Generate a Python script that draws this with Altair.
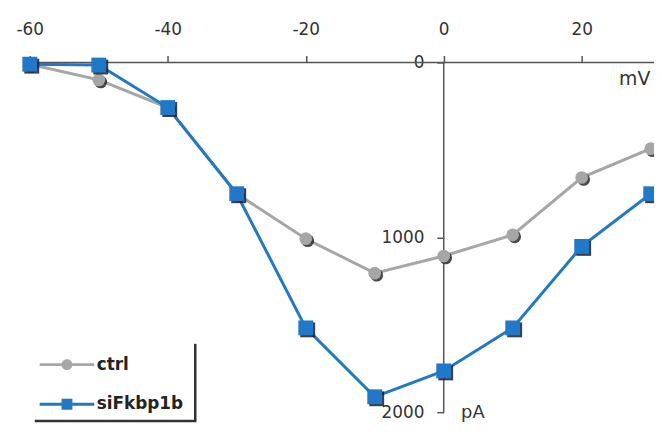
import altair as alt
import pandas as pd

# ---- data ----
voltage = [-60, -50, -40, -30, -20, -10, 0, 10, 20, 30]
ctrl = [10, 100, 258, 751, 1008, 1205, 1107, 986, 658, 493]
sifkbp1b = [10, 15, 258, 751, 1518, 1912, 1764, 1518, 1052, 751]
series_names = ["ctrl", "siFkbp1b"]
x_ticks = [-60, -40, -20, 0, 20]
y_ticks = [0, 1000, 2000]

GRAY = "#a6a6a6"
BLUE = "#1f78c8"
FONT = "DejaVu Sans"

df = pd.DataFrame({
    "mV": voltage * 2,
    "pA": ctrl + sifkbp1b,
    "series": ["ctrl"] * len(voltage) + ["siFkbp1b"] * len(voltage),
})

W, H = 652, 418
X_MIN, X_MAX = -63.16, 30.48
Y_MIN, Y_MAX = -300.3, 2068
x_axis_px = H * (0 - Y_MIN) / (Y_MAX - Y_MIN)
y_axis_px = W * (0 - X_MIN) / (X_MAX - X_MIN)

xscale = alt.Scale(domain=[X_MIN, X_MAX], nice=False, zero=False)
yscale = alt.Scale(domain=[Y_MIN, Y_MAX], nice=False, zero=False, reverse=True)

xaxis = alt.Axis(
    orient="top", offset=-x_axis_px, values=x_ticks, domain=False, grid=False,
    tickSize=7, tickWidth=1.5, tickColor="#555",
    labelExpr="'' + datum.value",
    labelFont=FONT, labelFontSize=17, labelColor="#333", labelPadding=21,
    labelBaseline="alphabetic", labelFlush=False, labelOverlap=False,
    title="mV", titleFont=FONT, titleFontSize=19, titleFontWeight="normal",
    titleColor="#333", titleX=632, titleY=16, titleAlign="center",
    titleBaseline="middle", titleAngle=0,
)
yaxis = alt.Axis(
    orient="left", offset=-y_axis_px, values=y_ticks, domain=False, grid=False,
    tickSize=7, tickWidth=1.5, tickColor="#555",
    labelExpr="'' + datum.value",
    labelFont=FONT, labelFontSize=17, labelColor="#333", labelPadding=13,
    labelAlign="right", labelBaseline="middle", labelFlush=False, labelOverlap=False,
    title="pA", titleFont=FONT, titleFontSize=18, titleFontWeight="normal",
    titleColor="#333", titleX=17, titleY=406, titleAlign="left",
    titleBaseline="middle", titleAngle=0,
)

X = alt.X("mV:Q", scale=xscale, axis=xaxis)
Y = alt.Y("pA:Q", scale=yscale, axis=yaxis)

# axis lines
xline = alt.Chart(pd.DataFrame({"mV": [-60], "mV2": [X_MAX], "pA": [0]})).mark_rule(
    color="#555", strokeWidth=1.5).encode(x=X, x2="mV2:Q", y=Y)
yline = alt.Chart(pd.DataFrame({"mV": [0], "pA": [0], "pA2": [2000]})).mark_rule(
    color="#555", strokeWidth=1.5).encode(x=X, y=Y, y2="pA2:Q")

ctrl_df = alt.Chart(df).transform_filter(alt.datum.series == "ctrl")
sif_df = alt.Chart(df).transform_filter(alt.datum.series == "siFkbp1b")

ctrl_line = ctrl_df.mark_line(color=GRAY, strokeWidth=3).encode(x=X, y=Y)
ctrl_shadow = ctrl_df.mark_point(shape="circle", filled=True, size=165, color="#2a2a2a",
                                 opacity=0.85, xOffset=2, yOffset=2).encode(x=X, y=Y)
ctrl_pts = ctrl_df.mark_point(shape="circle", filled=True, size=165, color=GRAY,
                              opacity=1).encode(x=X, y=Y)

sif_line = sif_df.mark_line(color=BLUE, strokeWidth=3).encode(x=X, y=Y)
sif_shadow = sif_df.mark_point(shape="square", filled=True, size=225, color="#1a1a2a",
                               opacity=0.85, xOffset=2, yOffset=2).encode(x=X, y=Y)
sif_pts = sif_df.mark_point(shape="square", filled=True, size=225, color=BLUE,
                            opacity=1).encode(x=X, y=Y)

# legend (native legend, custom line+marker symbols)
legend_paths = [
    "M-2.75,-0.15H2.75V0.15H-2.75Z M-0.55,0A0.55,0.55 0 1,1 0.55,0A0.55,0.55 0 1,1 -0.55,0Z",
    "M-2.75,-0.15H2.75V0.15H-2.75Z M-0.55,-0.55H0.55V0.55H-0.55Z",
]
leg = alt.Legend(
    orient="none", legendX=49.5, legendY=348, padding=0, title=None,
    symbolSize=400, symbolStrokeWidth=0, symbolOpacity=1,
    labelOffset=20, rowPadding=22,
    labelFont=FONT, labelFontSize=17, labelFontWeight="bold", labelColor="#222",
)
legend_layer = alt.Chart(df).transform_filter("false").mark_point(
    filled=True, opacity=1).encode(
    x=X, y=Y,
    color=alt.Color("series:N", scale=alt.Scale(domain=series_names, range=[GRAY, BLUE]), legend=leg),
    shape=alt.Shape("series:N", scale=alt.Scale(domain=series_names, range=legend_paths), legend=leg),
)

frame_df = pd.DataFrame({"k": [0]})
frame_right = alt.Chart(frame_df).mark_rule(color="#333", strokeWidth=2.5).encode(
    x=alt.value(189), y=alt.value(337), y2=alt.value(415))
frame_bottom = alt.Chart(frame_df).mark_rule(color="#333", strokeWidth=2.5).encode(
    x=alt.value(27), x2=alt.value(190), y=alt.value(415))

chart = alt.layer(
    xline, yline,
    ctrl_line, ctrl_shadow, ctrl_pts,
    sif_line, sif_shadow, sif_pts,
    legend_layer, frame_right, frame_bottom,
).properties(
    width=W, height=H, padding=0,
    autosize=alt.AutoSizeParams(type="none"),
    background="white",
).configure_view(stroke=None)

chart.save("out.html", embed_options={"renderer": "svg", "actions": False})
